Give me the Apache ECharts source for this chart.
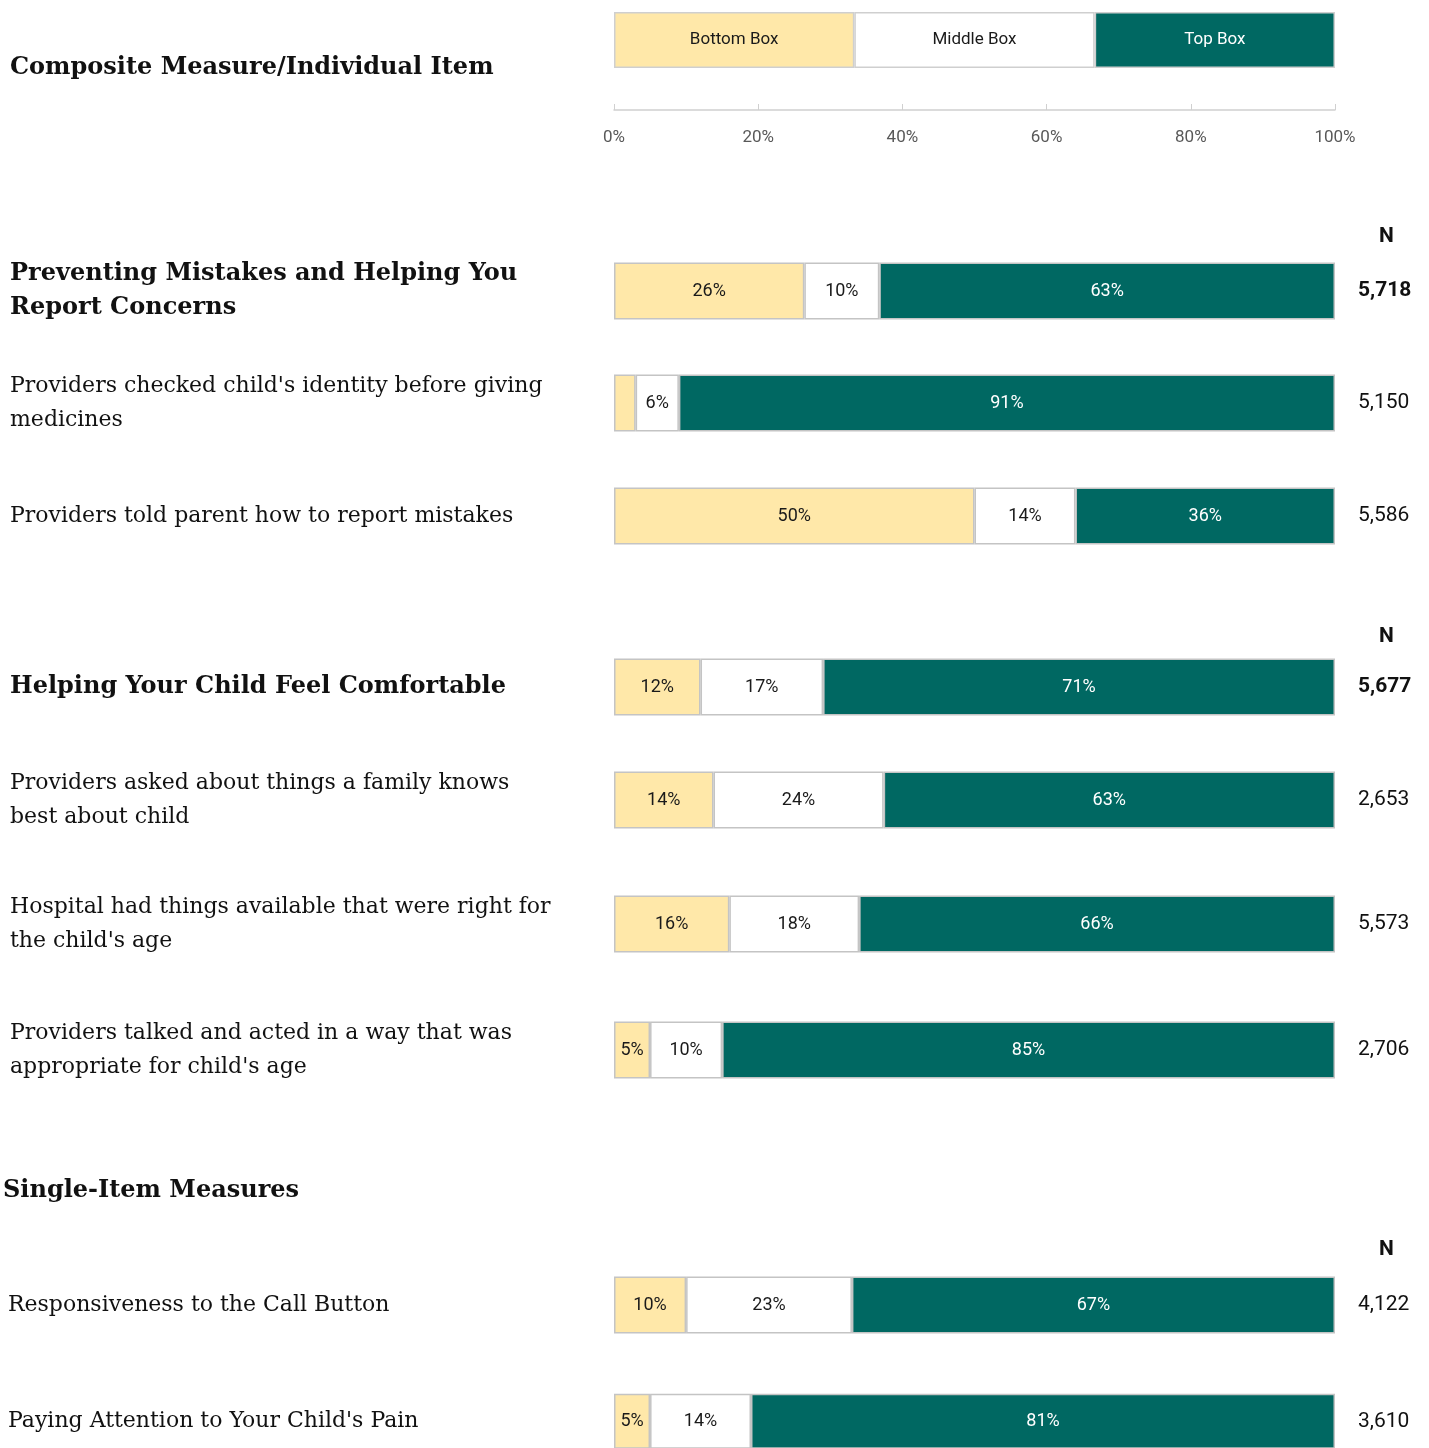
<!DOCTYPE html>
<html>
<head>
<meta charset="utf-8">
<script src="https://cdn.jsdelivr.net/npm/echarts@6/dist/echarts.min.js"></script>
<style>
  html, body { margin: 0; padding: 0; background: #fff; }
  #chart { width: 1429px; height: 1448px; }
</style>
</head>
<body>
<div id="chart"></div>
<script>
// row labels, top to bottom
const rowLabels = [
  'Preventing Mistakes and Helping You\nReport Concerns',
  "Providers checked child's identity before giving\nmedicines",
  'Providers told parent how to report mistakes',
  'Helping Your Child Feel Comfortable',
  'Providers asked about things a family knows\nbest about child',
  "Hospital had things available that were right for\nthe child's age",
  "Providers talked and acted in a way that was\nappropriate for child's age",
  'Responsiveness to the Call Button',
  "Paying Attention to Your Child's Pain"
];
const isComposite = [true, false, false, true, false, false, false, false, false];

// percentages (bars drawn to full 100%)
const bottomBox = [26.4, 3, 50, 12, 13.8, 16, 5, 10, 5];
const middleBox = [10.4, 6, 14, 17, 23.6, 18, 10, 23, 14];
const topBox = [63.2, 91, 36, 71, 62.6, 66, 85, 67, 81];
const nValues = ['5,718', '5,150', '5,586', '5,677', '2,653', '5,573', '2,706', '4,122', '3,610'];

const legendNames = ['Bottom Box', 'Middle Box', 'Top Box'];
const axisTicks = [0, 20, 40, 60, 80, 100];

// layout
const rowCenters = [291, 403, 516, 687, 800, 924, 1050, 1305, 1423];
const labelLeft = [10, 10, 10, 10, 10, 10, 10, 8, 8];
const barLeft = 614, barWidthPx = 721, barH = 57;
const colors = ['#FFE8A9', '#FFFFFF', '#006862'];
const textColors = ['#1a1a1a', '#1a1a1a', '#ffffff'];
const serif = 'DejaVu Serif';
const sans = 'Liberation Sans Narrow, Roboto, sans-serif';

let chart = echarts.init(document.getElementById('chart'));

const grids = [], xAxes = [], yAxes = [], series = [];

// legend bar + percent axis
grids.push({ left: barLeft, width: barWidthPx, top: 12, height: 56 });
xAxes.push({
  gridIndex: 0, type: 'value', min: 0, max: 100, interval: 20,
  position: 'bottom', offset: 42,
  axisLine: { show: true, lineStyle: { color: '#d0d0d0', width: 1.5 } },
  axisTick: { show: true, inside: true, length: 6, lineStyle: { color: '#d0d0d0' } },
  axisLabel: { color: '#595959', fontSize: 17, fontFamily: sans, margin: 19,
    formatter: v => axisTicks.indexOf(v) >= 0 ? v + '%' : '' },
  splitLine: { show: false }
});
yAxes.push({ gridIndex: 0, type: 'category', data: [''], show: false });
legendNames.forEach((name, k) => {
  series.push({
    type: 'bar', name: name, xAxisIndex: 0, yAxisIndex: 0, stack: 'legend',
    barWidth: 56, data: [100 / legendNames.length],
    itemStyle: { color: colors[k], borderColor: '#cfcfcf', borderWidth: 1.5 },
    label: { show: true, position: 'inside', formatter: name, color: textColors[k],
      fontSize: 17, fontFamily: sans },
    silent: true
  });
});

// data rows
const segs = [bottomBox, middleBox, topBox];
rowLabels.forEach((lab, i) => {
  const g = i + 1;
  grids.push({ left: barLeft, width: barWidthPx, top: rowCenters[i] - barH / 2, height: barH });
  xAxes.push({ gridIndex: g, type: 'value', min: 0, max: 100, show: false });
  yAxes.push({
    gridIndex: g, type: 'category', data: [lab], position: 'left',
    axisLine: { show: false }, axisTick: { show: false },
    axisLabel: { align: 'left', margin: barLeft - labelLeft[i], color: '#111',
      fontFamily: serif, fontSize: isComposite[i] ? 24 : 22, lineHeight: 34,
      fontWeight: isComposite[i] ? 'bold' : 'normal' }
  });
  yAxes.push({
    gridIndex: g, type: 'category', data: [nValues[i]], position: 'right',
    axisLine: { show: false }, axisTick: { show: false },
    axisLabel: { align: 'left', margin: 23, color: '#111', fontFamily: sans,
      fontSize: 21, fontWeight: isComposite[i] ? 'bold' : 'normal' }
  });
  segs.forEach((arr, k) => {
    series.push({
      type: 'bar', name: legendNames[k], xAxisIndex: g, yAxisIndex: 2 * i + 1,
      stack: 'row' + i, barWidth: barH, data: [arr[i]],
      itemStyle: { color: colors[k], borderColor: '#c4c4c4', borderWidth: 1.5 },
      label: { show: arr[i] >= 4, position: 'inside', color: textColors[k],
        fontSize: 18, fontFamily: sans, formatter: p => Math.round(p.value) + '%' },
      silent: true
    });
  });
});

const titles = [
  { text: 'Composite Measure/Individual Item', left: 10, top: 56 },
  { text: 'Single-Item Measures', left: 3, top: 1179 },
  { text: 'N', left: 1379, top: 226, sansBold: true },
  { text: 'N', left: 1379, top: 626, sansBold: true },
  { text: 'N', left: 1379, top: 1239, sansBold: true }
].map(t => ({
  text: t.text, left: t.left, top: t.top, padding: 0,
  textStyle: t.sansBold
    ? { fontFamily: sans, fontSize: 21, fontWeight: 'bold', color: '#111' }
    : { fontFamily: serif, fontSize: 24, fontWeight: 'bold', color: '#111' }
}));

chart.setOption({
  animation: false,
  title: titles,
  grid: grids,
  xAxis: xAxes,
  yAxis: yAxes,
  series: series
});
</script>
</body>
</html>
